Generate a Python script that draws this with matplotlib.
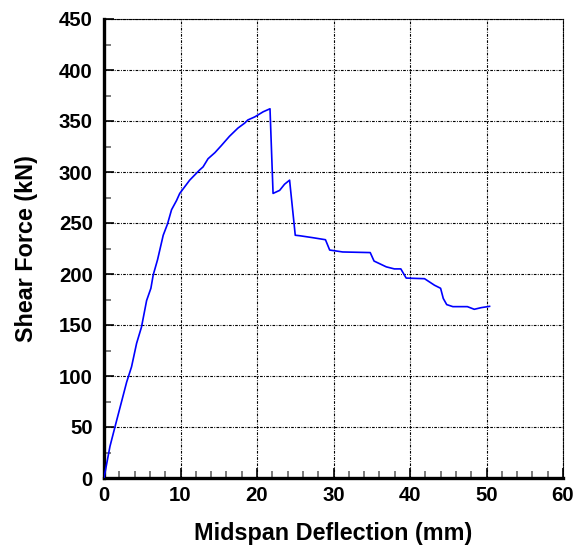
import matplotlib
matplotlib.use("Agg")
import matplotlib.pyplot as plt
from matplotlib.ticker import MultipleLocator

deflection = [0, 0.78, 1.43, 2.3, 2.96, 3.6, 4.26, 4.9, 5.57, 6.13, 6.43, 7.0, 7.74, 8.3, 8.83,
              9.48, 9.9, 11.2, 12.5, 12.95, 13.6, 14.5, 15.35, 16.4, 17.5, 18.4, 18.8, 19.7,
              20.8, 21.7, 22.1, 22.96, 23.6, 24.26, 25.0, 25.6, 27.3, 28.95, 29.5, 31.2, 34.8,
              35.3, 36.9, 37.95, 38.8, 39.5, 41.9, 43.2, 44.0, 44.35, 44.8, 45.6, 47.5, 48.4,
              49.3, 50.4]
shear = [0, 31, 50, 75, 94, 109, 132, 148, 174, 186, 199, 214, 238, 249, 263,
         272, 279, 292, 302, 305, 313, 319, 326, 335, 343, 348, 351, 354,
         359, 362, 279, 282, 288, 292, 238, 237.5, 235.6, 233.6, 223.5, 221.6, 221,
         212.7, 207, 205, 205, 196, 195.4, 189, 186, 176, 170, 168, 168, 165.4,
         167, 168.3]

xlabel = "Midspan Deflection (mm)"
ylabel = "Shear Force (kN)"

plt.rcParams['font.family'] = ['Liberation Sans', 'DejaVu Sans']
fig = plt.figure(figsize=(5.86, 5.48), dpi=100)
ax = fig.add_axes([104/586, 70/548, 459/586, 459/548])

ax.plot(deflection, shear, color='#0000ff', lw=1.2, zorder=3)

ax.set_xlim(0, 60)
ax.set_ylim(0, 450)
ax.xaxis.set_major_locator(MultipleLocator(10))
ax.xaxis.set_minor_locator(MultipleLocator(2))
ax.yaxis.set_major_locator(MultipleLocator(50))
ax.yaxis.set_minor_locator(MultipleLocator(25))

dash = (0, (2.4, 1.2, 0.8, 1.2))
ax.grid(True, which='major', color='black', lw=0.8, linestyle=dash)
for s in ['top', 'right']:
    ax.spines[s].set_linestyle(dash)
    ax.spines[s].set_linewidth(0.8)
for s in ['left', 'bottom']:
    ax.spines[s].set_linewidth(2.4)

ax.tick_params(which='both', direction='in', top=False, right=False, width=1.2)
ax.tick_params(which='major', length=7, labelsize=14.7, color='black')
ax.tick_params(axis='x', which='major', pad=6)
ax.tick_params(axis='y', which='major', pad=8)
ax.tick_params(which='minor', length=5, color='#666666')
for lab in ax.get_xticklabels() + ax.get_yticklabels():
    lab.set_fontweight('bold')

ax.set_xlabel(xlabel, fontsize=16.8, fontweight='bold', labelpad=12)
ax.set_ylabel(ylabel, fontsize=16.8, fontweight='bold', labelpad=15)

fig.savefig("out.png", dpi=100)
